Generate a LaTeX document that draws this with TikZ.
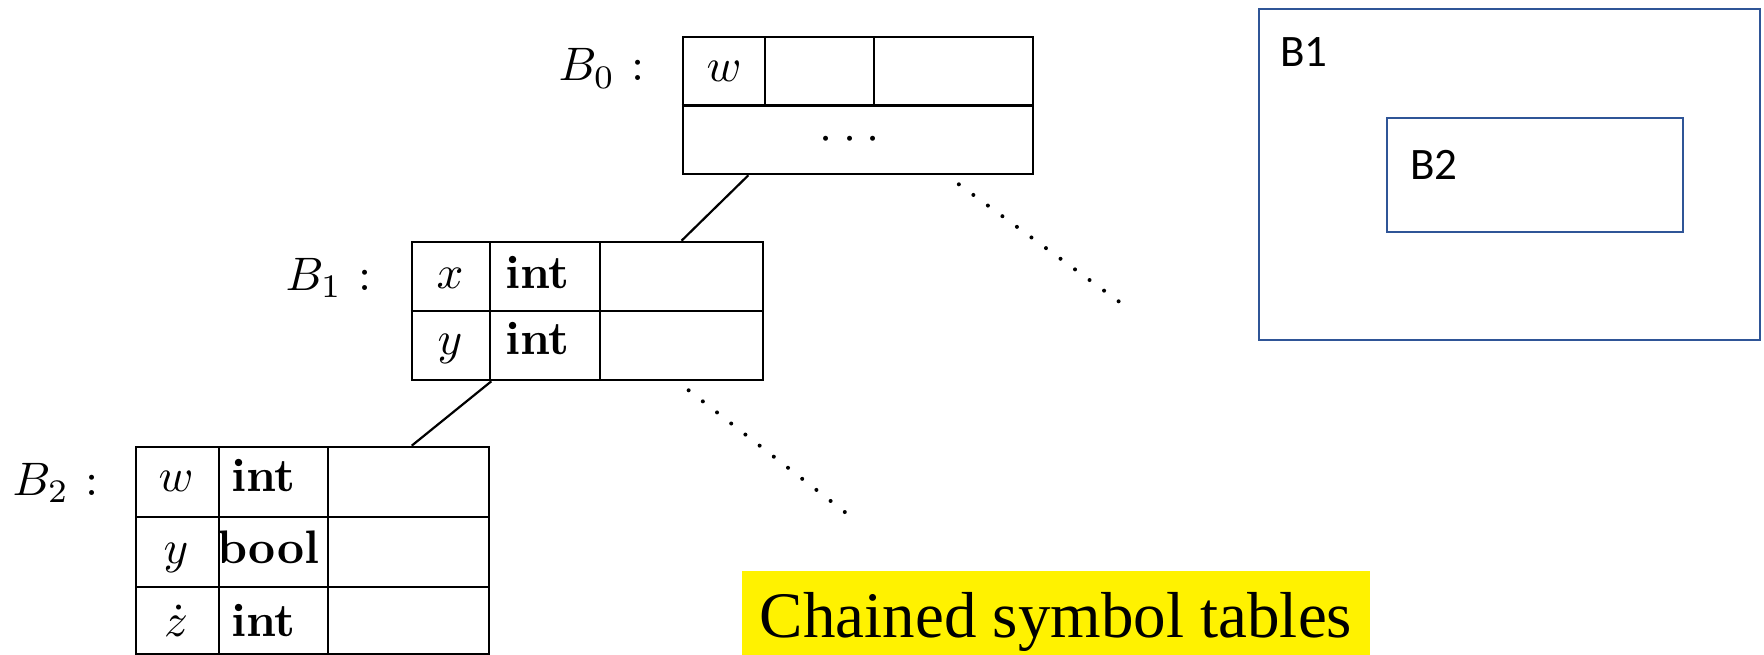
\RequirePackage{fix-cm}
\documentclass[tikz,border=0pt]{standalone}
\usepackage{graphicx}
\usepackage{fontspec}
\newfontfamily\calibrifont{Carlito}
\newfontfamily\serifcap{Liberation Serif}
\usetikzlibrary{calc}
\definecolor{boxblue}{RGB}{47,85,151}
% entries are set at 10pt and enlarged, keeping the 10pt letter shapes
\newcommand{\bigten}[1]{\scalebox{4.7}{#1}}

\begin{document}
\begin{tikzpicture}[x=1pt,y=-1pt,
  tbl/.style={draw, line width=2.6pt, inner sep=0pt, rectangle},
  grid/.style={line width=2.4pt},
  link/.style={line width=2.2pt},
  trail/.style={line width=4pt, line cap=round, dash pattern=on 0pt off 18pt},
  cell/.style={inner sep=0pt, anchor=base},
  typ/.style={inner sep=0pt, anchor=base west},
  lbl/.style={inner sep=0pt, anchor=base east},
  scopebox/.style={draw=boxblue, line width=2.5pt, inner sep=0pt},
  scopelbl/.style={inner sep=0pt, anchor=base west, font=\calibrifont\fontsize{45}{54}\selectfont},
  caption/.style={fill=yellow, inner sep=0pt, anchor=base, minimum width=628pt,
    text height=66pt, text depth=20pt, font=\serifcap\fontsize{65}{78}\selectfont}
]
\useasboundingbox (0,0) rectangle (1764,655);

% ---- table B0 ----
\node[tbl, minimum width=350pt, minimum height=137pt] (b0) at (858,105.5) {};
\draw[grid] (b0.west) -- (b0.east);
\draw[grid] (765,37) -- (765,105.5);
\draw[grid] (874,37) -- (874,105.5);
\node[cell] (b0w) at (724,82) {\bigten{$w$}};
\node[cell] (b0dots) at (850,151) {\bigten{$\cdotp\mkern1mu\cdotp\mkern1mu\cdotp$}};
\node[lbl] (b0lbl) at (645,81) {\bigten{$B_0$\hspace{0.35em}:}};

% ---- table B1 ----
\node[tbl, minimum width=351pt, minimum height=138pt] (b1) at (587.5,311) {};
\draw[grid] (b1.west) -- (b1.east);
\draw[grid] (490,242) -- (490,380);
\draw[grid] (600,242) -- (600,380);
\node[cell] (b1x) at (450,288) {\bigten{$x$}};
\node[typ] (b1xt) at (505,288) {\bigten{\textbf{int}}};
\node[cell] (b1y) at (450,354) {\bigten{$y$}};
\node[typ] (b1yt) at (505,354) {\bigten{\textbf{int}}};
\node[lbl] (b1lbl) at (372,290) {\bigten{$B_1$\hspace{0.35em}:}};

% ---- table B2 ----
\node[tbl, minimum width=353pt, minimum height=207pt] (b2) at (312.5,550.5) {};
\draw[grid] (136,517) -- (489,517);
\draw[grid] (136,587) -- (489,587);
\draw[grid] (219,447) -- (219,654);
\draw[grid] (328,447) -- (328,654);
\node[cell] (b2w) at (176,491) {\bigten{$w$}};
\node[typ] (b2wt) at (231,491) {\bigten{\textbf{int}}};
\node[cell] (b2y) at (176,563) {\bigten{$y$}};
\node[typ] (b2yt) at (217,563) {\bigten{\textbf{bool}}};
\node[cell] (b2z) at (176,636) {\bigten{$\dot z$}};
\node[typ] (b2zt) at (231,636) {\bigten{\textbf{int}}};
\node[lbl] (b2lbl) at (99,495) {\bigten{$B_2$\hspace{0.35em}:}};

% ---- chain links ----
\draw[link] ($(b0.south west)!0.189!(b0.south east)$) -- ($(b1.north west)!0.766!(b1.north east)$);
\draw[link] ($(b1.south west)!0.228!(b1.south east)$) -- ($(b2.north west)!0.779!(b2.north east)$);

% ---- dotted trails to sibling scopes ----
\coordinate (t0) at (1125,306);
\coordinate (t1) at (855,520);
\draw[trail] ($(b0.south west)!0.786!(b0.south east)+(0,9)$) -- (t0);
\draw[trail] ($(b1.south west)!0.786!(b1.south east)+(0,9)$) -- (t1);

% ---- nested scopes ----
\node[scopebox, minimum width=501pt, minimum height=331pt] (s1) at (1509.5,174.5) {};
\node[scopebox, minimum width=296pt, minimum height=114pt] (s2) at (1535,175) {};
\node[scopelbl] (s1lbl) at (1280,67) {B1};
\node[scopelbl] (s2lbl) at (1410,180) {B2};

% ---- caption ----
\node[caption] (cap) at (1056,637) {Chained symbol tables};
\end{tikzpicture}
\end{document}
